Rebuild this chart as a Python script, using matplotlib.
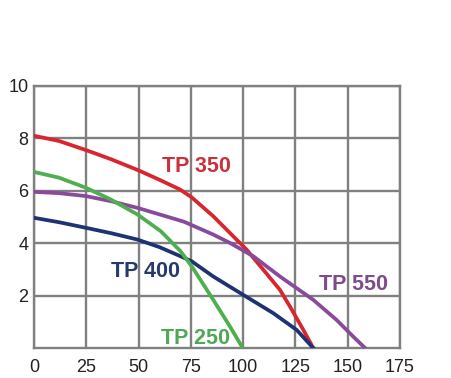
import matplotlib
matplotlib.use("Agg")
import matplotlib.pyplot as plt

plt.rcParams['font.family'] = ['Liberation Sans', 'DejaVu Sans']

# flow vs head
tp350_x = [0, 12, 25, 37, 50, 60, 69.8, 75.4, 85.7, 93.7, 101.7, 109.6, 117.6, 122.4, 128.8, 133.5]
tp350_y = [8.1, 7.9, 7.55, 7.2, 6.78, 6.42, 6.05, 5.75, 5.03, 4.39, 3.75, 2.99, 2.22, 1.58, 0.69, 0]

tp550_x = [0, 12, 24.7, 37, 49.4, 60, 71.7, 85.7, 93.7, 104.9, 117.6, 133.5, 144.7, 152.7, 158.3]
tp550_y = [5.96, 5.91, 5.8, 5.6, 5.35, 5.1, 4.82, 4.33, 4.01, 3.5, 2.73, 1.84, 1.07, 0.43, 0]

tp400_x = [0, 12, 24.7, 37, 49.4, 60, 70.1, 75.4, 85.7, 100, 114.4, 125.6, 133.5]
tp400_y = [4.97, 4.8, 4.59, 4.38, 4.14, 3.85, 3.5, 3.31, 2.73, 2.03, 1.33, 0.69, 0]

tp250_x = [0, 12, 24.7, 36.7, 49.4, 60.6, 70.1, 75.4, 80, 85.7, 93.7, 99.8]
tp250_y = [6.72, 6.5, 6.12, 5.67, 5.1, 4.46, 3.69, 3.12, 2.55, 1.84, 0.82, 0]

xticks = [0, 25, 50, 75, 100, 125, 150, 175]
yticks = [2, 4, 6, 8, 10]

fig = plt.figure(figsize=(4.52, 3.78), dpi=100)
ax = fig.add_axes([34/452, 30/378, 366/452, 262/378])

grey = '#808080'
ax.plot(tp350_x, tp350_y, color='#d8262e', lw=2.7, zorder=3, solid_joinstyle='round')
ax.plot(tp550_x, tp550_y, color='#8a4a9c', lw=2.7, zorder=3, solid_joinstyle='round')
ax.plot(tp400_x, tp400_y, color='#1f3272', lw=2.7, zorder=3, solid_joinstyle='round')
ax.plot(tp250_x, tp250_y, color='#4fae4f', lw=2.7, zorder=3, solid_joinstyle='round')

lab = dict(fontsize=15.5, fontweight='bold', ha='center', va='center', zorder=4)
ax.text(77.9, 6.93, 'TP 350', color='#c8323a', **lab)
ax.text(53.2, 2.92, 'TP 400', color='#283a6c', **lab)
ax.text(77, 0.38, 'TP 250', color='#4fa856', **lab)
ax.text(153, 2.42, 'TP 550', color='#7e4b8c', **lab)

ax.set_xlim(0, 175)
ax.set_ylim(0, 10)
ax.set_xticks(xticks)
ax.set_yticks(yticks)
ax.grid(True, color=grey, lw=1.7)
ax.set_axisbelow(True)
for s in ax.spines.values():
    s.set_color(grey)
    s.set_linewidth(1.7)
ax.tick_params(length=0, labelsize=13, colors='#222222')
ax.tick_params(axis='x', pad=8)
ax.tick_params(axis='y', pad=4)

fig.savefig('out.png', dpi=100)
